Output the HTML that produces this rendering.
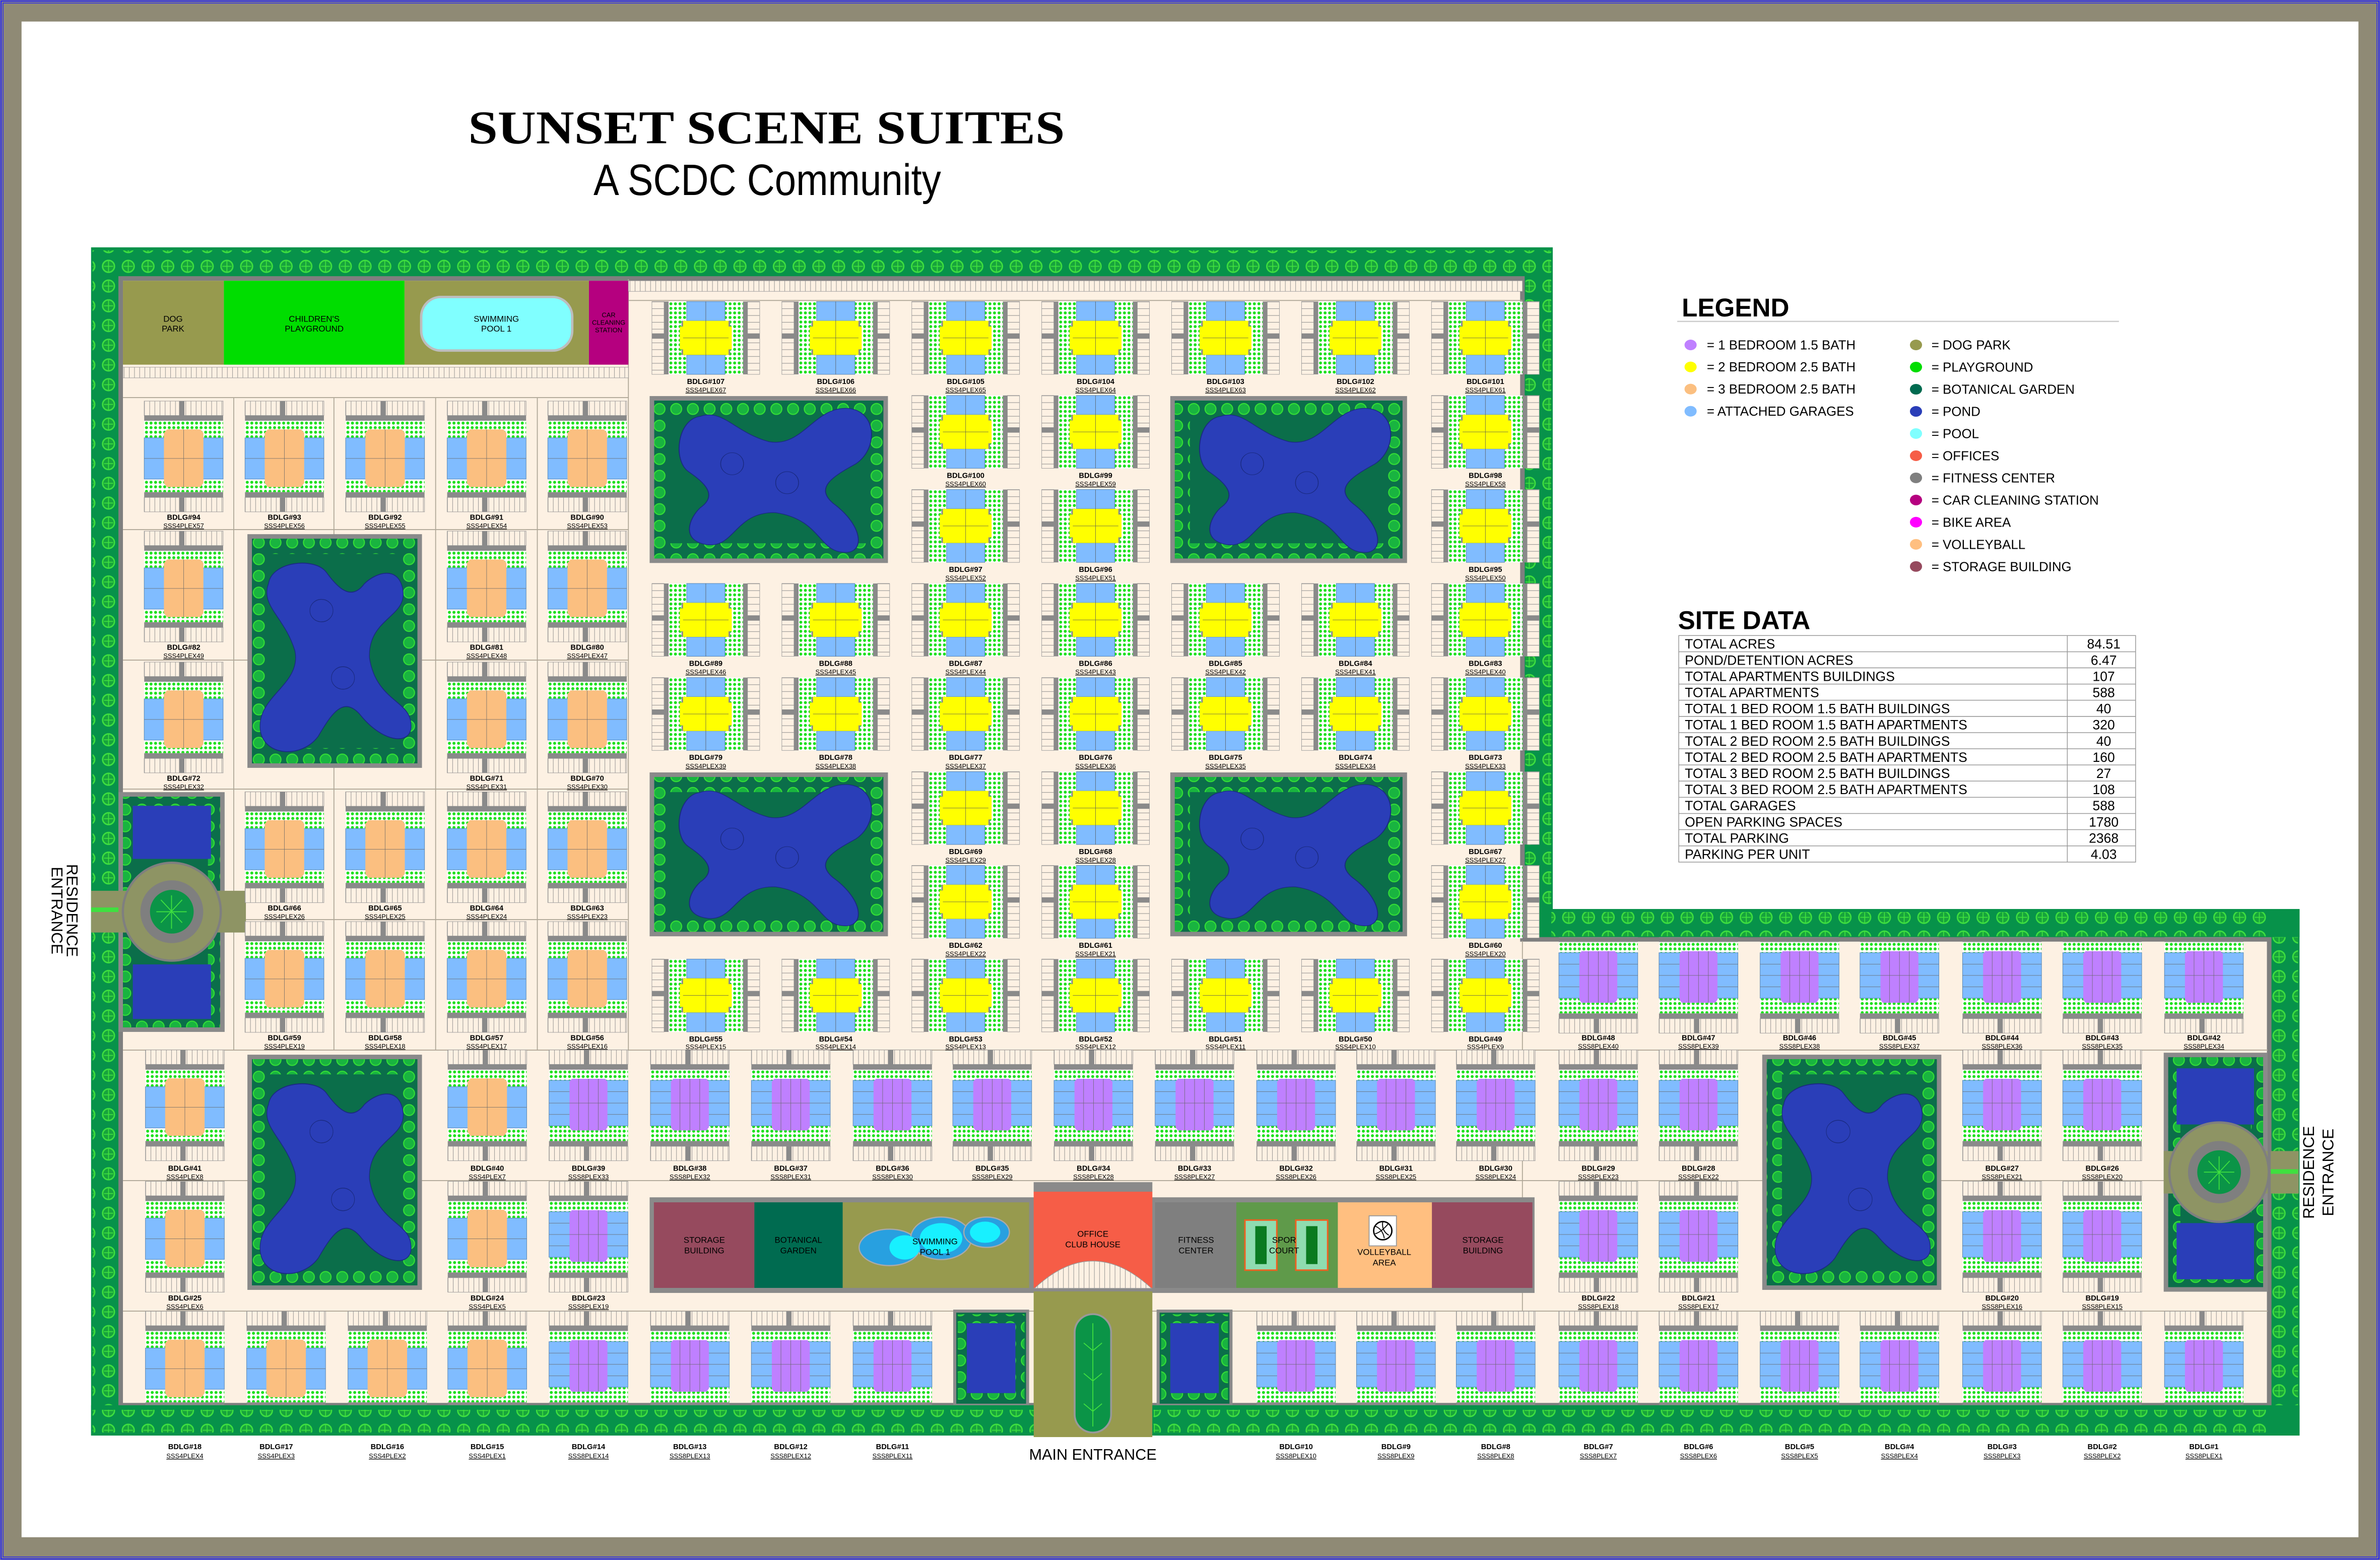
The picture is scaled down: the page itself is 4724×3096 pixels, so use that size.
<!DOCTYPE html>
<html><head><meta charset="utf-8"><title>Sunset Scene Suites</title>
<style>html,body{margin:0;padding:0;background:#fff}svg{display:block}
.b{font-family:"Liberation Sans",sans-serif;font-weight:bold;font-size:4.9px;text-anchor:middle;fill:#000}
.s{font-family:"Liberation Sans",sans-serif;font-size:4.3px;text-anchor:middle;fill:#000;text-decoration:underline}
.a{font-family:"Liberation Sans Narrow","Liberation Sans",sans-serif;font-size:5.6px;text-anchor:middle;fill:#000}
.lg{font-family:"Liberation Sans",sans-serif;font-size:8.6px;fill:#000}
.td{font-family:"Liberation Sans",sans-serif;font-size:8.8px;fill:#000}
</style></head><body>
<svg xmlns="http://www.w3.org/2000/svg" xmlns:xlink="http://www.w3.org/1999/xlink" width="4724" height="3096" viewBox="0 0 1568 1028" preserveAspectRatio="none">
<defs>
<pattern id="tr" width="13" height="13" patternUnits="userSpaceOnUse"><circle cx="6.5" cy="6.5" r="3.9" fill="#17a33c" stroke="#3fe03f" stroke-width="0.9"/><path d="M6.5 3v7M3.5 6.5h6" stroke="#3fe03f" stroke-width="0.6"/></pattern>
<pattern id="tp" width="11" height="11" patternUnits="userSpaceOnUse"><rect width="11" height="11" fill="#0b6e4a"/><circle cx="5.5" cy="5.5" r="3.6" fill="#19b440" stroke="#35e035" stroke-width="0.7"/></pattern>
<pattern id="sv" width="3.4" height="10" patternUnits="userSpaceOnUse"><rect width="3.4" height="10" fill="#fdf1e3"/><line x1="0.2" y1="0" x2="0.2" y2="10" stroke="#8a8a8a" stroke-width="0.3"/></pattern>
<pattern id="sh" width="10" height="4.5" patternUnits="userSpaceOnUse"><rect width="10" height="4.5" fill="#fdf1e3"/><line x1="0" y1="0.2" x2="10" y2="0.2" stroke="#8a8a8a" stroke-width="0.3"/></pattern>
<pattern id="gp" width="3" height="3" patternUnits="userSpaceOnUse"><rect width="3" height="3" fill="#fff"/><circle cx="1.5" cy="1.5" r="1" fill="#1fe01f"/></pattern>
<g id="Y">
<rect x="-11" y="0" width="8" height="48" fill="url(#sh)" stroke="#999" stroke-width=".3"/>
<rect x="-11" y="21" width="8" height="3.5" fill="#8a8a8a"/>
<rect x="-3" y="0" width="3" height="48" fill="#8a8a8a"/>
<rect x="52" y="0" width="8" height="48" fill="url(#sh)" stroke="#999" stroke-width=".3"/>
<rect x="52" y="21" width="8" height="3.5" fill="#8a8a8a"/>
<rect x="49" y="0" width="3" height="48" fill="#8a8a8a"/>
<rect x="0" y="0" width="49" height="48" fill="url(#gp)"/>
<rect x="8.5" y="12.7" width="2" height="22.5" fill="#8a8a8a"/><rect x="38.5" y="12.7" width="2" height="22.5" fill="#8a8a8a"/>
<rect x="11.9" y="0" width="25.2" height="12.7" fill="#80bcff" stroke="#4d7fb0" stroke-width=".3"/>
<rect x="11.9" y="35.2" width="25.2" height="12.8" fill="#80bcff" stroke="#4d7fb0" stroke-width=".3"/>
<path d="M9.5 12.7H39.5V16.5H41.6V31.5H39.5V35.2H9.5V31.5H7.4V16.5H9.5Z" fill="#ffff00"/>
<path d="M24.5 0V48M9.5 24H39.5" stroke="#555" stroke-width=".25"/>
</g>
<g id="O">
<rect x="0" y="-13" width="52" height="9.5" fill="url(#sv)" stroke="#999" stroke-width=".3"/>
<rect x="23" y="-13" width="3.5" height="9.5" fill="#8a8a8a"/>
<rect x="0" y="-3.5" width="52" height="3.5" fill="#8a8a8a"/>
<rect x="0" y="0" width="52" height="47" fill="url(#gp)"/>
<rect x="0" y="11.2" width="52" height="27.2" fill="#80bcff" stroke="#4d7fb0" stroke-width=".3"/>
<path d="M15 5.7H37L39 8V41L37 43.6H15L13 41V8Z" fill="#fbbf80"/>
<path d="M26 5.7V43.6M0 24.8H52" stroke="#666" stroke-width=".25"/>
<rect x="0" y="47" width="52" height="3.5" fill="#8a8a8a"/>
<rect x="0" y="50.5" width="52" height="9.5" fill="url(#sv)" stroke="#999" stroke-width=".3"/>
<rect x="23" y="50.5" width="3.5" height="9.5" fill="#8a8a8a"/>
</g>
<g id="P">
<rect x="0" y="-13" width="52" height="9.5" fill="url(#sv)" stroke="#999" stroke-width=".3"/>
<rect x="23" y="-13" width="3.5" height="9.5" fill="#8a8a8a"/>
<rect x="0" y="-3.5" width="52" height="3.5" fill="#8a8a8a"/>
<rect x="0" y="0" width="52" height="47" fill="url(#gp)"/>
<rect x="0" y="7" width="52" height="30" fill="#80bcff" stroke="#4d7fb0" stroke-width=".3"/>
<path d="M15 6H37L38.5 8V38L37 40H15L13.5 38V8Z" fill="#bf80ff"/>
<path d="M19.5 6V40M26 6V40M32.5 6V40M0 22H52M0 14.5H13.5M38.5 14.5H52M0 29.5H13.5M38.5 29.5H52" stroke="#666" stroke-width=".25"/>
<rect x="0" y="47" width="52" height="3.5" fill="#8a8a8a"/>
<rect x="0" y="50.5" width="52" height="9.5" fill="url(#sv)" stroke="#999" stroke-width=".3"/>
<rect x="23" y="50.5" width="3.5" height="9.5" fill="#8a8a8a"/>
</g>
<symbol id="bH" viewBox="0 0 100 100" preserveAspectRatio="none"><path d="M20 10C30 5 35 20 50 26C65 30 70 3 85 5C97 7 98 30 88 40C78 48 70 55 78 65C92 80 92 98 82 96C72 95 72 75 53 71C35 70 35 95 22 91C12 88 15 75 20 68C28 60 22 52 15 45C8 38 10 12 20 10Z" fill="#2a3eb8" stroke="#1a2a80" stroke-width="0.4"/><ellipse cx="34" cy="40" rx="5" ry="7" fill="none" stroke="#1a2a80" stroke-width="0.3"/><ellipse cx="58" cy="52" rx="5" ry="7" fill="none" stroke="#1a2a80" stroke-width="0.3"/></symbol>
<symbol id="bV" viewBox="0 0 100 100" preserveAspectRatio="none"><path d="M10 20C5 30 20 35 26 50C30 65 3 70 5 85C7 97 30 98 40 88C48 78 55 70 65 78C80 92 98 92 96 82C95 72 75 72 71 53C70 35 95 35 91 22C88 12 75 15 68 20C60 28 52 22 45 15C38 8 12 10 10 20Z" fill="#2a3eb8" stroke="#1a2a80" stroke-width="0.4"/><ellipse cx="42" cy="32" rx="7" ry="5" fill="none" stroke="#1a2a80" stroke-width="0.3"/><ellipse cx="55" cy="62" rx="7" ry="5" fill="none" stroke="#1a2a80" stroke-width="0.3"/></symbol>
</defs>

<!-- frame -->
<rect x="0" y="0" width="1568" height="1028" fill="#8f8a75"/>
<rect x="0.7" y="0.7" width="1566.6" height="1026.6" fill="none" stroke="#2a2af0" stroke-width="0.8"/>
<rect x="2" y="2" width="1564" height="1024" fill="none" stroke="#2a2af0" stroke-width="0.5"/>
<rect x="14.2" y="14.2" width="1539.6" height="998.8" fill="#fff"/>

<!-- title -->
<text x="505" y="94.5" text-anchor="middle" textLength="393" lengthAdjust="spacingAndGlyphs" style="font-family:'Liberation Serif',serif;font-weight:bold;font-size:31px">SUNSET SCENE SUITES</text>
<text x="505.5" y="128.5" text-anchor="middle" textLength="229" lengthAdjust="spacingAndGlyphs" style="font-family:'Liberation Sans Narrow','Liberation Sans',sans-serif;font-size:29px">A SCDC Community</text>

<!-- site boundary -->
<path d="M60 163H1023V599H1515V946H60Z" fill="#07924a"/>
<rect x="61" y="165" width="960" height="16" fill="url(#tr)"/>
<rect x="61" y="165" width="17" height="780" fill="url(#tr)"/>
<rect x="1005" y="165" width="17" height="435" fill="url(#tr)"/>
<rect x="1022" y="601" width="492" height="16" fill="url(#tr)"/>
<rect x="1496" y="601" width="18" height="344" fill="url(#tr)"/>
<path d="M79.5 183.5H1003V619H1495V926H79.5Z" fill="#fdf1e3" stroke="#7f7f7f" stroke-width="3"/>

<!-- light road lines -->
<g stroke="#b0a898" stroke-width="0.6" fill="none">
<path d="M81 262H414M81 349H414M81 435H414M81 520H414M81 606H414M81 692H1003M414 198H1003M81 778H1495M81 864H1495M1003 692H1495"/>
<path d="M414 184V692M154 262V692M220 262V692M287 262V692M354 262V692M1003 620V926"/>
</g>

<!-- top amenities -->
<rect x="81" y="185" width="66.5" height="55.3" fill="#979a4e"/>
<rect x="147.5" y="185" width="119" height="55.3" fill="#00dd00"/>
<rect x="266.5" y="185" width="121.5" height="55.3" fill="#979a4e"/>
<rect x="388" y="185" width="26" height="55.3" fill="#b5007f"/>
<rect x="277.5" y="195.7" width="99.5" height="35.3" rx="13" fill="#80ffff" stroke="#bdbdbd" stroke-width="1.6"/>
<text class="a" x="114" y="212">DOG</text><text class="a" x="114" y="218.5">PARK</text>
<text class="a" x="207" y="212">CHILDREN'S</text><text class="a" x="207" y="218.5">PLAYGROUND</text>
<text class="a" x="327" y="212">SWIMMING</text><text class="a" x="327" y="218.5">POOL 1</text>
<text class="a" x="401" y="209" style="font-size:4.3px">CAR</text><text class="a" x="401" y="214" style="font-size:4.3px">CLEANING</text><text class="a" x="401" y="219" style="font-size:4.3px">STATION</text>
<rect x="81" y="242" width="333" height="7" fill="url(#sv)" stroke="#999" stroke-width=".3"/>
<rect x="414" y="185" width="589" height="7" fill="url(#sv)" stroke="#999" stroke-width=".3"/>

<!-- big ponds -->
<g>
<rect x="428" y="261" width="157" height="110" fill="#8a8a8a"/><rect x="431" y="264" width="151" height="104" fill="#0b6e4a"/><rect x="436" y="269" width="141" height="94" fill="none" stroke="url(#tp)" stroke-width="10"/>
<use xlink:href="#bH" x="431" y="264" width="151" height="104"/>
<rect x="771" y="261" width="156" height="110" fill="#8a8a8a"/><rect x="774" y="264" width="150" height="104" fill="#0b6e4a"/><rect x="779" y="269" width="140" height="94" fill="none" stroke="url(#tp)" stroke-width="10"/>
<use xlink:href="#bH" x="774" y="264" width="150" height="104"/>
<rect x="428" y="509" width="157" height="108" fill="#8a8a8a"/><rect x="431" y="512" width="151" height="102" fill="#0b6e4a"/><rect x="436" y="517" width="141" height="92" fill="none" stroke="url(#tp)" stroke-width="10"/>
<use xlink:href="#bH" x="431" y="512" width="151" height="102"/>
<rect x="771" y="509" width="156" height="108" fill="#8a8a8a"/><rect x="774" y="512" width="150" height="102" fill="#0b6e4a"/><rect x="779" y="517" width="140" height="92" fill="none" stroke="url(#tp)" stroke-width="10"/>
<use xlink:href="#bH" x="774" y="512" width="150" height="102"/>
<rect x="163" y="352" width="115" height="154" fill="#8a8a8a"/><rect x="166" y="355" width="109" height="148" fill="#0b6e4a"/><rect x="171" y="360" width="99" height="138" fill="none" stroke="url(#tp)" stroke-width="10"/>
<use xlink:href="#bV" x="166" y="355" width="109" height="148"/>
<rect x="163" y="695" width="115" height="155" fill="#8a8a8a"/><rect x="166" y="698" width="109" height="149" fill="#0b6e4a"/><rect x="171" y="703" width="99" height="139" fill="none" stroke="url(#tp)" stroke-width="10"/>
<use xlink:href="#bV" x="166" y="698" width="109" height="149"/>
<rect x="1161" y="695" width="118" height="155" fill="#8a8a8a"/><rect x="1164" y="698" width="112" height="149" fill="#0b6e4a"/><rect x="1169" y="703" width="102" height="139" fill="none" stroke="url(#tp)" stroke-width="10"/>
<use xlink:href="#bV" x="1164" y="698" width="112" height="149"/>
</g>

<!-- left roundabout block -->
<rect x="78" y="522" width="70" height="158" fill="#8a8a8a"/>
<rect x="81" y="525" width="64" height="152" fill="#0b6e4a"/>
<rect x="85" y="529" width="56" height="144" fill="none" stroke="url(#tp)" stroke-width="8"/>
<rect x="87.5" y="531" width="51.5" height="35" fill="#2a3eb8"/>
<rect x="87.5" y="635.5" width="51.5" height="36" fill="#2a3eb8"/>
<rect x="60" y="587" width="102" height="27.5" fill="#8e9464"/>
<rect x="60" y="598" width="18" height="3" fill="#3fe03f"/>
<circle cx="113.2" cy="600.8" r="33" fill="#7f7f7f"/>
<circle cx="113.2" cy="600.8" r="31.5" fill="#8e9464"/>
<circle cx="113.2" cy="600.8" r="20.7" fill="#7f7f7f"/>
<circle cx="113.2" cy="600.8" r="14.4" fill="#0b9447"/>
<path d="M113 590v22M103 600.8h20M106 593l14 15M120 593l-14 15" stroke="#3fe03f" stroke-width="0.6"/>

<!-- right roundabout block -->
<rect x="1425.5" y="693.7" width="68.5" height="157.5" fill="#8a8a8a"/>
<rect x="1428.5" y="696.7" width="62.5" height="151.5" fill="#0b6e4a"/>
<rect x="1432.5" y="700.7" width="54.5" height="143.5" fill="none" stroke="url(#tp)" stroke-width="8"/>
<rect x="1434" y="704" width="51" height="37" fill="#2a3eb8"/>
<rect x="1434" y="806" width="51" height="37" fill="#2a3eb8"/>
<rect x="1425.5" y="758.5" width="89" height="28" fill="#8e9464"/>
<rect x="1496" y="770.5" width="18" height="3" fill="#3fe03f"/>
<circle cx="1462" cy="772.4" r="33.5" fill="#7f7f7f"/>
<circle cx="1462" cy="772.4" r="32" fill="#8e9464"/>
<circle cx="1462" cy="772.4" r="20.5" fill="#7f7f7f"/>
<circle cx="1462" cy="772.4" r="14.4" fill="#0b9447"/>
<path d="M1462 762v22M1452 772.4h20M1455 765l14 15M1469 765l-14 15" stroke="#3fe03f" stroke-width="0.6"/>

<!-- bottom small ponds & entrance -->
<rect x="629" y="864" width="48" height="62" fill="#0b6e4a" stroke="#8a8a8a" stroke-width="2"/>
<rect x="634" y="869" width="38" height="52" fill="none" stroke="url(#tp)" stroke-width="6"/>
<rect x="637" y="872" width="32" height="46" fill="#2a3eb8"/>
<rect x="763" y="864" width="48" height="62" fill="#0b6e4a" stroke="#8a8a8a" stroke-width="2"/>
<rect x="768" y="869" width="38" height="52" fill="none" stroke="url(#tp)" stroke-width="6"/>
<rect x="771" y="872" width="32" height="46" fill="#2a3eb8"/>

<!-- amenity row -->
<rect x="428" y="789" width="583" height="63" fill="#8a8a8a"/>
<rect x="430.8" y="792.3" width="66.2" height="56.4" fill="#964a5e"/>
<rect x="497" y="792.3" width="58.2" height="56.4" fill="#006b50"/>
<rect x="555.2" y="792.3" width="122.8" height="56.4" fill="#979a4e"/>
<rect x="681" y="779" width="78.2" height="6.5" fill="#8a8a8a"/>
<rect x="681" y="785.3" width="78.2" height="63.4" fill="#f65d47"/>
<path d="M681.5 849Q720 813 758.7 849Z" fill="url(#sv)" stroke="#999" stroke-width=".4"/>
<rect x="761" y="792.3" width="53.5" height="56.4" fill="#7f7f7f"/>
<rect x="814.5" y="792.3" width="66.9" height="56.4" fill="#5f9a4a"/>
<rect x="881.4" y="792.3" width="62" height="56.4" fill="#ffbf80"/>
<rect x="943.4" y="792.3" width="66.2" height="56.4" fill="#964a5e"/>
<g>
<ellipse cx="586" cy="822" rx="20" ry="12" fill="#28a0e0" stroke="#aaa" stroke-width="0.8"/>
<ellipse cx="620" cy="816" rx="20" ry="14" fill="#28a0e0" stroke="#aaa" stroke-width="0.8"/>
<ellipse cx="650" cy="812" rx="15" ry="10" fill="#28a0e0" stroke="#aaa" stroke-width="0.8"/>
<ellipse cx="620" cy="816" rx="14" ry="10" fill="#18f0ff"/>
<ellipse cx="649" cy="812" rx="10" ry="7" fill="#18f0ff"/>
<ellipse cx="596" cy="822" rx="10" ry="8" fill="#18f0ff"/>
</g>
<g>
<rect x="820.2" y="804" width="21" height="33" fill="#8fdcb0" stroke="#f06020" stroke-width="1"/><rect x="827" y="808" width="7.5" height="25" fill="#0a7a20"/>
<rect x="853.7" y="804" width="21" height="33" fill="#8fdcb0" stroke="#f06020" stroke-width="1"/><rect x="860.5" y="808" width="7.5" height="25" fill="#0a7a20"/>
<rect x="902" y="801.2" width="18" height="19.8" fill="#fff" stroke="#999" stroke-width="0.6"/>
<circle cx="911" cy="811" r="6" fill="#fff" stroke="#000" stroke-width="0.9"/><path d="M906 808q5 2 6 8M911 805q-1 6 4 9M906 813q4-1 9-7" stroke="#000" stroke-width="0.6" fill="none"/>
</g>
<text class="a" x="464" y="819">STORAGE</text><text class="a" x="464" y="826">BUILDING</text>
<text class="a" x="526" y="819">BOTANICAL</text><text class="a" x="526" y="826">GARDEN</text>
<text class="a" x="616" y="820">SWIMMING</text><text class="a" x="616" y="827">POOL 1</text>
<text class="a" x="720" y="815">OFFICE</text><text class="a" x="720" y="822">CLUB HOUSE</text>
<text class="a" x="788" y="819">FITNESS</text><text class="a" x="788" y="826">CENTER</text>
<text class="a" x="846" y="819">SPOR</text><text class="a" x="846" y="826">COURT</text>
<text class="a" x="912" y="827">VOLLEYBALL</text><text class="a" x="912" y="834">AREA</text>
<text class="a" x="977" y="819">STORAGE</text><text class="a" x="977" y="826">BUILDING</text>

<!-- Y buildings -->
<g>
<use xlink:href="#Y" x="440.5" y="198.7"/><use xlink:href="#Y" x="526.1" y="198.7"/><use xlink:href="#Y" x="611.7" y="198.7"/><use xlink:href="#Y" x="697.3" y="198.7"/><use xlink:href="#Y" x="782.9" y="198.7"/><use xlink:href="#Y" x="868.5" y="198.7"/><use xlink:href="#Y" x="954.1" y="198.7"/>
<use xlink:href="#Y" x="611.7" y="260.6"/><use xlink:href="#Y" x="697.3" y="260.6"/><use xlink:href="#Y" x="954.1" y="260.6"/>
<use xlink:href="#Y" x="611.7" y="322.6"/><use xlink:href="#Y" x="697.3" y="322.6"/><use xlink:href="#Y" x="954.1" y="322.6"/>
<use xlink:href="#Y" x="440.5" y="384.5"/><use xlink:href="#Y" x="526.1" y="384.5"/><use xlink:href="#Y" x="611.7" y="384.5"/><use xlink:href="#Y" x="697.3" y="384.5"/><use xlink:href="#Y" x="782.9" y="384.5"/><use xlink:href="#Y" x="868.5" y="384.5"/><use xlink:href="#Y" x="954.1" y="384.5"/>
<use xlink:href="#Y" x="440.5" y="446.5"/><use xlink:href="#Y" x="526.1" y="446.5"/><use xlink:href="#Y" x="611.7" y="446.5"/><use xlink:href="#Y" x="697.3" y="446.5"/><use xlink:href="#Y" x="782.9" y="446.5"/><use xlink:href="#Y" x="868.5" y="446.5"/><use xlink:href="#Y" x="954.1" y="446.5"/>
<use xlink:href="#Y" x="611.7" y="508.5"/><use xlink:href="#Y" x="697.3" y="508.5"/><use xlink:href="#Y" x="954.1" y="508.5"/>
<use xlink:href="#Y" x="611.7" y="570.3"/><use xlink:href="#Y" x="697.3" y="570.3"/><use xlink:href="#Y" x="954.1" y="570.3"/>
<use xlink:href="#Y" x="440.5" y="632"/><use xlink:href="#Y" x="526.1" y="632"/><use xlink:href="#Y" x="611.7" y="632"/><use xlink:href="#Y" x="697.3" y="632"/><use xlink:href="#Y" x="782.9" y="632"/><use xlink:href="#Y" x="868.5" y="632"/><use xlink:href="#Y" x="954.1" y="632"/>
</g>
<g>
<text class="b" x="465" y="253">BDLG#107</text><text class="s" x="465" y="258.5">SSS4PLEX67</text>
<text class="b" x="550.6" y="253">BDLG#106</text><text class="s" x="550.6" y="258.5">SSS4PLEX66</text>
<text class="b" x="636.2" y="253">BDLG#105</text><text class="s" x="636.2" y="258.5">SSS4PLEX65</text>
<text class="b" x="721.8" y="253">BDLG#104</text><text class="s" x="721.8" y="258.5">SSS4PLEX64</text>
<text class="b" x="807.4" y="253">BDLG#103</text><text class="s" x="807.4" y="258.5">SSS4PLEX63</text>
<text class="b" x="893" y="253">BDLG#102</text><text class="s" x="893" y="258.5">SSS4PLEX62</text>
<text class="b" x="978.6" y="253">BDLG#101</text><text class="s" x="978.6" y="258.5">SSS4PLEX61</text>
<text class="b" x="636.2" y="314.9">BDLG#100</text><text class="s" x="636.2" y="320.4">SSS4PLEX60</text>
<text class="b" x="721.8" y="314.9">BDLG#99</text><text class="s" x="721.8" y="320.4">SSS4PLEX59</text>
<text class="b" x="978.6" y="314.9">BDLG#98</text><text class="s" x="978.6" y="320.4">SSS4PLEX58</text>
<text class="b" x="636.2" y="376.9">BDLG#97</text><text class="s" x="636.2" y="382.4">SSS4PLEX52</text>
<text class="b" x="721.8" y="376.9">BDLG#96</text><text class="s" x="721.8" y="382.4">SSS4PLEX51</text>
<text class="b" x="978.6" y="376.9">BDLG#95</text><text class="s" x="978.6" y="382.4">SSS4PLEX50</text>
<text class="b" x="465" y="438.8">BDLG#89</text><text class="s" x="465" y="444.3">SSS4PLEX46</text>
<text class="b" x="550.6" y="438.8">BDLG#88</text><text class="s" x="550.6" y="444.3">SSS4PLEX45</text>
<text class="b" x="636.2" y="438.8">BDLG#87</text><text class="s" x="636.2" y="444.3">SSS4PLEX44</text>
<text class="b" x="721.8" y="438.8">BDLG#86</text><text class="s" x="721.8" y="444.3">SSS4PLEX43</text>
<text class="b" x="807.4" y="438.8">BDLG#85</text><text class="s" x="807.4" y="444.3">SSS4PLEX42</text>
<text class="b" x="893" y="438.8">BDLG#84</text><text class="s" x="893" y="444.3">SSS4PLEX41</text>
<text class="b" x="978.6" y="438.8">BDLG#83</text><text class="s" x="978.6" y="444.3">SSS4PLEX40</text>
<text class="b" x="465" y="500.8">BDLG#79</text><text class="s" x="465" y="506.3">SSS4PLEX39</text>
<text class="b" x="550.6" y="500.8">BDLG#78</text><text class="s" x="550.6" y="506.3">SSS4PLEX38</text>
<text class="b" x="636.2" y="500.8">BDLG#77</text><text class="s" x="636.2" y="506.3">SSS4PLEX37</text>
<text class="b" x="721.8" y="500.8">BDLG#76</text><text class="s" x="721.8" y="506.3">SSS4PLEX36</text>
<text class="b" x="807.4" y="500.8">BDLG#75</text><text class="s" x="807.4" y="506.3">SSS4PLEX35</text>
<text class="b" x="893" y="500.8">BDLG#74</text><text class="s" x="893" y="506.3">SSS4PLEX34</text>
<text class="b" x="978.6" y="500.8">BDLG#73</text><text class="s" x="978.6" y="506.3">SSS4PLEX33</text>
<text class="b" x="636.2" y="562.8">BDLG#69</text><text class="s" x="636.2" y="568.3">SSS4PLEX29</text>
<text class="b" x="721.8" y="562.8">BDLG#68</text><text class="s" x="721.8" y="568.3">SSS4PLEX28</text>
<text class="b" x="978.6" y="562.8">BDLG#67</text><text class="s" x="978.6" y="568.3">SSS4PLEX27</text>
<text class="b" x="636.2" y="624.6">BDLG#62</text><text class="s" x="636.2" y="630.1">SSS4PLEX22</text>
<text class="b" x="721.8" y="624.6">BDLG#61</text><text class="s" x="721.8" y="630.1">SSS4PLEX21</text>
<text class="b" x="978.6" y="624.6">BDLG#60</text><text class="s" x="978.6" y="630.1">SSS4PLEX20</text>
<text class="b" x="465" y="686.3">BDLG#55</text><text class="s" x="465" y="691.3">SSS4PLEX15</text>
<text class="b" x="550.6" y="686.3">BDLG#54</text><text class="s" x="550.6" y="691.3">SSS4PLEX14</text>
<text class="b" x="636.2" y="686.3">BDLG#53</text><text class="s" x="636.2" y="691.3">SSS4PLEX13</text>
<text class="b" x="721.8" y="686.3">BDLG#52</text><text class="s" x="721.8" y="691.3">SSS4PLEX12</text>
<text class="b" x="807.4" y="686.3">BDLG#51</text><text class="s" x="807.4" y="691.3">SSS4PLEX11</text>
<text class="b" x="893" y="686.3">BDLG#50</text><text class="s" x="893" y="691.3">SSS4PLEX10</text>
<text class="b" x="978.6" y="686.3">BDLG#49</text><text class="s" x="978.6" y="691.3">SSS4PLEX9</text>
</g>

<!-- left 3BR buildings -->
<g>
<use xlink:href="#O" x="95" y="277.3"/><use xlink:href="#O" x="161.4" y="277.3"/><use xlink:href="#O" x="227.7" y="277.3"/><use xlink:href="#O" x="294.6" y="277.3"/><use xlink:href="#O" x="360.9" y="277.3"/>
<use xlink:href="#O" x="95" y="363"/><use xlink:href="#O" x="294.6" y="363"/><use xlink:href="#O" x="360.9" y="363"/>
<use xlink:href="#O" x="95" y="449.3"/><use xlink:href="#O" x="294.6" y="449.3"/><use xlink:href="#O" x="360.9" y="449.3"/>
<use xlink:href="#O" x="161.4" y="534.8"/><use xlink:href="#O" x="227.7" y="534.8"/><use xlink:href="#O" x="294.6" y="534.8"/><use xlink:href="#O" x="360.9" y="534.8"/>
<use xlink:href="#O" x="161.4" y="620.3"/><use xlink:href="#O" x="227.7" y="620.3"/><use xlink:href="#O" x="294.6" y="620.3"/><use xlink:href="#O" x="360.9" y="620.3"/>
</g>
<g>
<text class="b" x="121" y="342.5">BDLG#94</text><text class="s" x="121" y="348">SSS4PLEX57</text>
<text class="b" x="187.4" y="342.5">BDLG#93</text><text class="s" x="187.4" y="348">SSS4PLEX56</text>
<text class="b" x="253.7" y="342.5">BDLG#92</text><text class="s" x="253.7" y="348">SSS4PLEX55</text>
<text class="b" x="320.6" y="342.5">BDLG#91</text><text class="s" x="320.6" y="348">SSS4PLEX54</text>
<text class="b" x="386.9" y="342.5">BDLG#90</text><text class="s" x="386.9" y="348">SSS4PLEX53</text>
<text class="b" x="121" y="428.2">BDLG#82</text><text class="s" x="121" y="433.7">SSS4PLEX49</text>
<text class="b" x="320.6" y="428.2">BDLG#81</text><text class="s" x="320.6" y="433.7">SSS4PLEX48</text>
<text class="b" x="386.9" y="428.2">BDLG#80</text><text class="s" x="386.9" y="433.7">SSS4PLEX47</text>
<text class="b" x="121" y="514.5">BDLG#72</text><text class="s" x="121" y="520">SSS4PLEX32</text>
<text class="b" x="320.6" y="514.5">BDLG#71</text><text class="s" x="320.6" y="520">SSS4PLEX31</text>
<text class="b" x="386.9" y="514.5">BDLG#70</text><text class="s" x="386.9" y="520">SSS4PLEX30</text>
<text class="b" x="187.4" y="600">BDLG#66</text><text class="s" x="187.4" y="605.5">SSS4PLEX26</text>
<text class="b" x="253.7" y="600">BDLG#65</text><text class="s" x="253.7" y="605.5">SSS4PLEX25</text>
<text class="b" x="320.6" y="600">BDLG#64</text><text class="s" x="320.6" y="605.5">SSS4PLEX24</text>
<text class="b" x="386.9" y="600">BDLG#63</text><text class="s" x="386.9" y="605.5">SSS4PLEX23</text>
<text class="b" x="187.4" y="685.5">BDLG#59</text><text class="s" x="187.4" y="691">SSS4PLEX19</text>
<text class="b" x="253.7" y="685.5">BDLG#58</text><text class="s" x="253.7" y="691">SSS4PLEX18</text>
<text class="b" x="320.6" y="685.5">BDLG#57</text><text class="s" x="320.6" y="691">SSS4PLEX17</text>
<text class="b" x="386.9" y="685.5">BDLG#56</text><text class="s" x="386.9" y="691">SSS4PLEX16</text>
</g>

<!-- lower section buildings -->
<g>
<!-- row R1 -->
<use xlink:href="#P" x="1027" y="620.8"/><use xlink:href="#P" x="1093" y="620.8"/><use xlink:href="#P" x="1159.6" y="620.8"/><use xlink:href="#P" x="1225.4" y="620.8"/><use xlink:href="#P" x="1293" y="620.8"/><use xlink:href="#P" x="1359" y="620.8"/><use xlink:href="#P" x="1426" y="620.8"/>
<!-- row F -->
<use xlink:href="#O" x="95.8" y="704.9"/><use xlink:href="#O" x="295" y="704.9"/>
<use xlink:href="#P" x="361.7" y="704.9"/><use xlink:href="#P" x="428.5" y="704.9"/><use xlink:href="#P" x="495" y="704.9"/><use xlink:href="#P" x="562" y="704.9"/><use xlink:href="#P" x="627.7" y="704.9"/><use xlink:href="#P" x="694.4" y="704.9"/><use xlink:href="#P" x="761" y="704.9"/><use xlink:href="#P" x="827.9" y="704.9"/><use xlink:href="#P" x="893.7" y="704.9"/><use xlink:href="#P" x="959.4" y="704.9"/><use xlink:href="#P" x="1027" y="704.9"/><use xlink:href="#P" x="1093" y="704.9"/><use xlink:href="#P" x="1293" y="704.9"/><use xlink:href="#P" x="1359" y="704.9"/>
<!-- row G -->
<use xlink:href="#O" x="95.8" y="791.5"/><use xlink:href="#O" x="295" y="791.5"/>
<use xlink:href="#P" x="361.7" y="791.5"/><use xlink:href="#P" x="1027" y="791.5"/><use xlink:href="#P" x="1093" y="791.5"/><use xlink:href="#P" x="1293" y="791.5"/><use xlink:href="#P" x="1359" y="791.5"/>
<!-- row H -->
<use xlink:href="#O" x="95.8" y="877.1"/><use xlink:href="#O" x="162.5" y="877.1"/><use xlink:href="#O" x="229.2" y="877.1"/><use xlink:href="#O" x="295" y="877.1"/>
<use xlink:href="#P" x="361.7" y="877.1"/><use xlink:href="#P" x="428.5" y="877.1"/><use xlink:href="#P" x="495" y="877.1"/><use xlink:href="#P" x="562" y="877.1"/>
<use xlink:href="#P" x="827.9" y="877.1"/><use xlink:href="#P" x="893.7" y="877.1"/><use xlink:href="#P" x="959.4" y="877.1"/><use xlink:href="#P" x="1027" y="877.1"/><use xlink:href="#P" x="1093" y="877.1"/><use xlink:href="#P" x="1159.6" y="877.1"/><use xlink:href="#P" x="1225.4" y="877.1"/><use xlink:href="#P" x="1293" y="877.1"/><use xlink:href="#P" x="1359" y="877.1"/><use xlink:href="#P" x="1426" y="877.1"/>
</g>

<!-- entrance road over everything below amenities -->
<rect x="681" y="851" width="78.2" height="96" fill="#979a4e"/>
<rect x="708" y="866" width="24" height="78" rx="12" fill="#0b9447" stroke="#999" stroke-width="1.2"/>
<path d="M720 872v68M714 885l6 5 6-5M714 905l6 5 6-5M714 925l6 5 6-5" stroke="#3fe03f" stroke-width="0.6" fill="none"/>

<!-- overlay bands -->
<rect x="60" y="926" width="621" height="20" fill="#07924a"/>
<rect x="759.2" y="926" width="755.8" height="20" fill="#07924a"/>
<rect x="61" y="929" width="620" height="15" fill="url(#tr)"/>
<rect x="760" y="929" width="735" height="15" fill="url(#tr)"/>
<rect x="1022" y="599" width="493" height="18.5" fill="#07924a"/>
<rect x="1022" y="601" width="473" height="16" fill="url(#tr)"/>
<path d="M1003 619H1495V926" fill="none" stroke="#7f7f7f" stroke-width="2"/>

<!-- lower labels -->
<g>
<text class="b" x="1053" y="685.5">BDLG#48</text><text class="s" x="1053" y="691">SSS8PLEX40</text>
<text class="b" x="1119" y="685.5">BDLG#47</text><text class="s" x="1119" y="691">SSS8PLEX39</text>
<text class="b" x="1185.6" y="685.5">BDLG#46</text><text class="s" x="1185.6" y="691">SSS8PLEX38</text>
<text class="b" x="1251.4" y="685.5">BDLG#45</text><text class="s" x="1251.4" y="691">SSS8PLEX37</text>
<text class="b" x="1319" y="685.5">BDLG#44</text><text class="s" x="1319" y="691">SSS8PLEX36</text>
<text class="b" x="1385" y="685.5">BDLG#43</text><text class="s" x="1385" y="691">SSS8PLEX35</text>
<text class="b" x="1452" y="685.5">BDLG#42</text><text class="s" x="1452" y="691">SSS8PLEX34</text>
<text class="b" x="121.8" y="771.5">BDLG#41</text><text class="s" x="121.8" y="777">SSS4PLEX8</text>
<text class="b" x="321" y="771.5">BDLG#40</text><text class="s" x="321" y="777">SSS4PLEX7</text>
<text class="b" x="387.7" y="771.5">BDLG#39</text><text class="s" x="387.7" y="777">SSS8PLEX33</text>
<text class="b" x="454.5" y="771.5">BDLG#38</text><text class="s" x="454.5" y="777">SSS8PLEX32</text>
<text class="b" x="521" y="771.5">BDLG#37</text><text class="s" x="521" y="777">SSS8PLEX31</text>
<text class="b" x="588" y="771.5">BDLG#36</text><text class="s" x="588" y="777">SSS8PLEX30</text>
<text class="b" x="653.7" y="771.5">BDLG#35</text><text class="s" x="653.7" y="777">SSS8PLEX29</text>
<text class="b" x="720.4" y="771.5">BDLG#34</text><text class="s" x="720.4" y="777">SSS8PLEX28</text>
<text class="b" x="787" y="771.5">BDLG#33</text><text class="s" x="787" y="777">SSS8PLEX27</text>
<text class="b" x="853.9" y="771.5">BDLG#32</text><text class="s" x="853.9" y="777">SSS8PLEX26</text>
<text class="b" x="919.7" y="771.5">BDLG#31</text><text class="s" x="919.7" y="777">SSS8PLEX25</text>
<text class="b" x="985.4" y="771.5">BDLG#30</text><text class="s" x="985.4" y="777">SSS8PLEX24</text>
<text class="b" x="1053" y="771.5">BDLG#29</text><text class="s" x="1053" y="777">SSS8PLEX23</text>
<text class="b" x="1119" y="771.5">BDLG#28</text><text class="s" x="1119" y="777">SSS8PLEX22</text>
<text class="b" x="1319" y="771.5">BDLG#27</text><text class="s" x="1319" y="777">SSS8PLEX21</text>
<text class="b" x="1385" y="771.5">BDLG#26</text><text class="s" x="1385" y="777">SSS8PLEX20</text>
<text class="b" x="121.8" y="857">BDLG#25</text><text class="s" x="121.8" y="862.5">SSS4PLEX6</text>
<text class="b" x="321" y="857">BDLG#24</text><text class="s" x="321" y="862.5">SSS4PLEX5</text>
<text class="b" x="387.7" y="857">BDLG#23</text><text class="s" x="387.7" y="862.5">SSS8PLEX19</text>
<text class="b" x="1053" y="857">BDLG#22</text><text class="s" x="1053" y="862.5">SSS8PLEX18</text>
<text class="b" x="1119" y="857">BDLG#21</text><text class="s" x="1119" y="862.5">SSS8PLEX17</text>
<text class="b" x="1319" y="857">BDLG#20</text><text class="s" x="1319" y="862.5">SSS8PLEX16</text>
<text class="b" x="1385" y="857">BDLG#19</text><text class="s" x="1385" y="862.5">SSS8PLEX15</text>
<text class="b" x="121.8" y="955">BDLG#18</text><text class="s" x="121.8" y="961">SSS4PLEX4</text>
<text class="b" x="182" y="955">BDLG#17</text><text class="s" x="182" y="961">SSS4PLEX3</text>
<text class="b" x="255.2" y="955">BDLG#16</text><text class="s" x="255.2" y="961">SSS4PLEX2</text>
<text class="b" x="321" y="955">BDLG#15</text><text class="s" x="321" y="961">SSS4PLEX1</text>
<text class="b" x="387.7" y="955">BDLG#14</text><text class="s" x="387.7" y="961">SSS8PLEX14</text>
<text class="b" x="454.5" y="955">BDLG#13</text><text class="s" x="454.5" y="961">SSS8PLEX13</text>
<text class="b" x="521" y="955">BDLG#12</text><text class="s" x="521" y="961">SSS8PLEX12</text>
<text class="b" x="588" y="955">BDLG#11</text><text class="s" x="588" y="961">SSS8PLEX11</text>
<text class="b" x="853.9" y="955">BDLG#10</text><text class="s" x="853.9" y="961">SSS8PLEX10</text>
<text class="b" x="919.7" y="955">BDLG#9</text><text class="s" x="919.7" y="961">SSS8PLEX9</text>
<text class="b" x="985.4" y="955">BDLG#8</text><text class="s" x="985.4" y="961">SSS8PLEX8</text>
<text class="b" x="1053" y="955">BDLG#7</text><text class="s" x="1053" y="961">SSS8PLEX7</text>
<text class="b" x="1119" y="955">BDLG#6</text><text class="s" x="1119" y="961">SSS8PLEX6</text>
<text class="b" x="1185.6" y="955">BDLG#5</text><text class="s" x="1185.6" y="961">SSS8PLEX5</text>
<text class="b" x="1251.4" y="955">BDLG#4</text><text class="s" x="1251.4" y="961">SSS8PLEX4</text>
<text class="b" x="1319" y="955">BDLG#3</text><text class="s" x="1319" y="961">SSS8PLEX3</text>
<text class="b" x="1385" y="955">BDLG#2</text><text class="s" x="1385" y="961">SSS8PLEX2</text>
<text class="b" x="1452" y="955">BDLG#1</text><text class="s" x="1452" y="961">SSS8PLEX1</text>
</g>

<text x="720" y="962" text-anchor="middle" textLength="84" lengthAdjust="spacingAndGlyphs" style="font-family:'Liberation Sans Narrow','Liberation Sans',sans-serif;font-size:10px">MAIN ENTRANCE</text>
<g style="font-family:'Liberation Sans',sans-serif;font-size:10.5px" text-anchor="middle">
<text transform="translate(44,600) rotate(90)" x="0" y="0">RESIDENCE</text>
<text transform="translate(34,600) rotate(90)" x="0" y="0">ENTRANCE</text>
<text transform="translate(1524.5,772.6) rotate(-90)" x="0" y="0">RESIDENCE</text>
<text transform="translate(1537.3,772.6) rotate(-90)" x="0" y="0">ENTRANCE</text>
</g>

<!-- legend -->
<text x="1108" y="208.5" style="font-family:'Liberation Sans',sans-serif;font-weight:bold;font-size:17px">LEGEND</text>
<line x1="1105" y1="211.8" x2="1396" y2="211.8" stroke="#ccc" stroke-width="0.8"/>
<g>
<ellipse cx="1113.8" cy="227.3" rx="4" ry="3.5" fill="#bf80ff"/><text class="lg" x="1124.5" y="230.3">= 1 BEDROOM 1.5 BATH</text>
<ellipse cx="1113.8" cy="241.8" rx="4" ry="3.5" fill="#ffff00"/><text class="lg" x="1124.5" y="244.8">= 2 BEDROOM 2.5 BATH</text>
<ellipse cx="1113.8" cy="256.4" rx="4" ry="3.5" fill="#fbbf80"/><text class="lg" x="1124.5" y="259.4">= 3 BEDROOM 2.5 BATH</text>
<ellipse cx="1113.8" cy="271" rx="4" ry="3.5" fill="#80bcff"/><text class="lg" x="1124.5" y="274">= ATTACHED GARAGES</text>
<ellipse cx="1262.3" cy="227.3" rx="4" ry="3.5" fill="#979a4e"/><text class="lg" x="1272.5" y="230.3">= DOG PARK</text>
<ellipse cx="1262.3" cy="241.9" rx="4" ry="3.5" fill="#00dd00"/><text class="lg" x="1272.5" y="244.9">= PLAYGROUND</text>
<ellipse cx="1262.3" cy="256.5" rx="4" ry="3.5" fill="#006b50"/><text class="lg" x="1272.5" y="259.5">= BOTANICAL GARDEN</text>
<ellipse cx="1262.3" cy="271.1" rx="4" ry="3.5" fill="#2a3eb8"/><text class="lg" x="1272.5" y="274.1">= POND</text>
<ellipse cx="1262.3" cy="285.7" rx="4" ry="3.5" fill="#80ffff"/><text class="lg" x="1272.5" y="288.7">= POOL</text>
<ellipse cx="1262.3" cy="300.3" rx="4" ry="3.5" fill="#f65d47"/><text class="lg" x="1272.5" y="303.3">= OFFICES</text>
<ellipse cx="1262.3" cy="314.9" rx="4" ry="3.5" fill="#7f7f7f"/><text class="lg" x="1272.5" y="317.9">= FITNESS CENTER</text>
<ellipse cx="1262.3" cy="329.5" rx="4" ry="3.5" fill="#b5007f"/><text class="lg" x="1272.5" y="332.5">= CAR CLEANING STATION</text>
<ellipse cx="1262.3" cy="344.1" rx="4" ry="3.5" fill="#ff00ff"/><text class="lg" x="1272.5" y="347.1">= BIKE AREA</text>
<ellipse cx="1262.3" cy="358.7" rx="4" ry="3.5" fill="#ffbf80"/><text class="lg" x="1272.5" y="361.7">= VOLLEYBALL</text>
<ellipse cx="1262.3" cy="373.3" rx="4" ry="3.5" fill="#964a5e"/><text class="lg" x="1272.5" y="376.3">= STORAGE BUILDING</text>
</g>

<!-- site data -->
<text x="1105.5" y="414.5" style="font-family:'Liberation Sans',sans-serif;font-weight:bold;font-size:17px">SITE DATA</text>
<g fill="none" stroke="#999" stroke-width="0.5">
<rect x="1106" y="418.8" width="301" height="149.3"/>
<line x1="1362" y1="418.8" x2="1362" y2="568.1"/>
<path d="M1106 429.5H1407M1106 440.1H1407M1106 450.8H1407M1106 461.4H1407M1106 472.1H1407M1106 482.8H1407M1106 493.4H1407M1106 504.1H1407M1106 514.7H1407M1106 525.4H1407M1106 536.1H1407M1106 546.7H1407M1106 557.4H1407"/>
</g>
<g>
<text class="td" x="1110" y="427.4">TOTAL ACRES</text><text class="td" x="1386" y="427.4" text-anchor="middle">84.51</text>
<text class="td" x="1110" y="438.1">POND/DETENTION ACRES</text><text class="td" x="1386" y="438.1" text-anchor="middle">6.47</text>
<text class="td" x="1110" y="448.7">TOTAL APARTMENTS BUILDINGS</text><text class="td" x="1386" y="448.7" text-anchor="middle">107</text>
<text class="td" x="1110" y="459.4">TOTAL APARTMENTS</text><text class="td" x="1386" y="459.4" text-anchor="middle">588</text>
<text class="td" x="1110" y="470">TOTAL 1 BED ROOM 1.5 BATH BUILDINGS</text><text class="td" x="1386" y="470" text-anchor="middle">40</text>
<text class="td" x="1110" y="480.7">TOTAL 1 BED ROOM 1.5 BATH APARTMENTS</text><text class="td" x="1386" y="480.7" text-anchor="middle">320</text>
<text class="td" x="1110" y="491.4">TOTAL 2 BED ROOM 2.5 BATH BUILDINGS</text><text class="td" x="1386" y="491.4" text-anchor="middle">40</text>
<text class="td" x="1110" y="502">TOTAL 2 BED ROOM 2.5 BATH APARTMENTS</text><text class="td" x="1386" y="502" text-anchor="middle">160</text>
<text class="td" x="1110" y="512.7">TOTAL 3 BED ROOM 2.5 BATH BUILDINGS</text><text class="td" x="1386" y="512.7" text-anchor="middle">27</text>
<text class="td" x="1110" y="523.3">TOTAL 3 BED ROOM 2.5 BATH APARTMENTS</text><text class="td" x="1386" y="523.3" text-anchor="middle">108</text>
<text class="td" x="1110" y="534">TOTAL GARAGES</text><text class="td" x="1386" y="534" text-anchor="middle">588</text>
<text class="td" x="1110" y="544.7">OPEN PARKING SPACES</text><text class="td" x="1386" y="544.7" text-anchor="middle">1780</text>
<text class="td" x="1110" y="555.3">TOTAL PARKING</text><text class="td" x="1386" y="555.3" text-anchor="middle">2368</text>
<text class="td" x="1110" y="566">PARKING PER UNIT</text><text class="td" x="1386" y="566" text-anchor="middle">4.03</text>
</g>
</svg>
</body></html>
